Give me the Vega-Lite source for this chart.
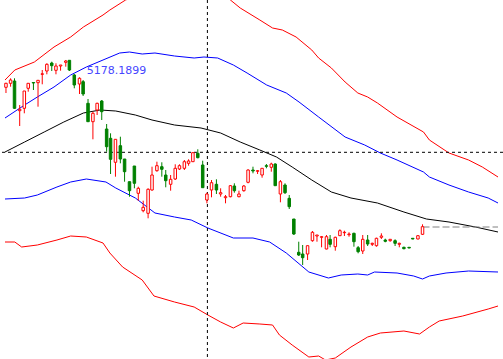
{
"$schema":"https://vega.github.io/schema/vega-lite/v6.json",
"width":503,"height":359,"padding":0,"autosize":{"type":"none"},
"background":"white",
"config":{"view":{"stroke":null}},
"datasets":{
"candles":[
{"t":1,"o":4905,"h":4950,"l":4848,"c":4945,"dir":"up"},
{"t":5.7,"o":4945,"h":4995,"l":4911,"c":4978,"dir":"up"},
{"t":9.7,"o":4968,"h":4995,"l":4690,"c":4695,"dir":"down"},
{"t":15,"o":4671,"h":4728,"l":4518,"c":4685,"dir":"up"},
{"t":19.7,"o":4695,"h":4868,"l":4645,"c":4868,"dir":"up"},
{"t":23.7,"o":4895,"h":4945,"l":4861,"c":4945,"dir":"up"},
{"t":29,"o":4953,"h":4953,"l":4878,"c":4948,"dir":"down"},
{"t":33.7,"o":4951,"h":4978,"l":4711,"c":4975,"dir":"up"},
{"t":38,"o":5035,"h":5078,"l":4935,"c":5040,"dir":"up"},
{"t":42.7,"o":5068,"h":5145,"l":5035,"c":5135,"dir":"up"},
{"t":47.7,"o":5148,"h":5161,"l":5068,"c":5121,"dir":"down"},
{"t":52,"o":5075,"h":5145,"l":5035,"c":5118,"dir":"up"},
{"t":56.7,"o":5118,"h":5128,"l":5071,"c":5128,"dir":"up"},
{"t":62,"o":5155,"h":5178.19,"l":5111,"c":5168,"dir":"up"},
{"t":65.7,"o":5175,"h":5176,"l":5068,"c":5078,"dir":"down"},
{"t":70.7,"o":5028,"h":5038,"l":4895,"c":4928,"dir":"down"},
{"t":76,"o":4938,"h":5005,"l":4838,"c":4995,"dir":"up"},
{"t":79.7,"o":4961,"h":4978,"l":4818,"c":4838,"dir":"down"},
{"t":84.7,"o":4745,"h":4788,"l":4561,"c":4561,"dir":"down"},
{"t":89.7,"o":4561,"h":4661,"l":4385,"c":4645,"dir":"up"},
{"t":94,"o":4678,"h":4751,"l":4628,"c":4745,"dir":"up"},
{"t":98.7,"o":4768,"h":4778,"l":4578,"c":4661,"dir":"down"},
{"t":103.7,"o":4488,"h":4538,"l":4261,"c":4311,"dir":"down"},
{"t":107.7,"o":4395,"h":4445,"l":4038,"c":4185,"dir":"down"},
{"t":112.7,"o":4155,"h":4385,"l":4011,"c":4385,"dir":"up"},
{"t":117.7,"o":4321,"h":4411,"l":4145,"c":4188,"dir":"down"},
{"t":122,"o":4188,"h":4188,"l":3961,"c":4061,"dir":"down"},
{"t":127,"o":3961,"h":3961,"l":3811,"c":3871,"dir":"down"},
{"t":132,"o":4118,"h":4118,"l":3895,"c":3945,"dir":"down"},
{"t":136,"o":3845,"h":3911,"l":3771,"c":3895,"dir":"up"},
{"t":141,"o":3671,"h":3771,"l":3655,"c":3705,"dir":"up"},
{"t":146,"o":3645,"h":3895,"l":3595,"c":3885,"dir":"up"},
{"t":150,"o":3878,"h":4111,"l":3871,"c":4028,"dir":"up"},
{"t":155,"o":4071,"h":4161,"l":4061,"c":4121,"dir":"up"},
{"t":160,"o":4111,"h":4155,"l":4011,"c":4085,"dir":"down"},
{"t":164,"o":4028,"h":4078,"l":3905,"c":3971,"dir":"down"},
{"t":169,"o":3935,"h":4028,"l":3871,"c":3985,"dir":"up"},
{"t":173.7,"o":3988,"h":4135,"l":3978,"c":4095,"dir":"up"},
{"t":178,"o":4088,"h":4135,"l":4078,"c":4121,"dir":"up"},
{"t":183,"o":4095,"h":4178,"l":4078,"c":4161,"dir":"up"},
{"t":187.3,"o":4145,"h":4185,"l":4121,"c":4168,"dir":"up"},
{"t":191.7,"o":4161,"h":4255,"l":4161,"c":4251,"dir":"up"},
{"t":196.7,"o":4245,"h":4285,"l":4195,"c":4201,"dir":"down"},
{"t":201.7,"o":4128,"h":4171,"l":3901,"c":3901,"dir":"down"},
{"t":206,"o":3778,"h":3851,"l":3745,"c":3838,"dir":"up"},
{"t":210.7,"o":3878,"h":3978,"l":3805,"c":3951,"dir":"up"},
{"t":215.7,"o":3935,"h":3985,"l":3838,"c":3878,"dir":"down"},
{"t":220,"o":3838,"h":3895,"l":3811,"c":3851,"dir":"up"},
{"t":225,"o":3801,"h":3828,"l":3745,"c":3811,"dir":"up"},
{"t":230,"o":3811,"h":3928,"l":3805,"c":3921,"dir":"up"},
{"t":234,"o":3918,"h":3945,"l":3851,"c":3871,"dir":"down"},
{"t":238.7,"o":3811,"h":3871,"l":3805,"c":3838,"dir":"up"},
{"t":243.7,"o":3871,"h":3928,"l":3861,"c":3918,"dir":"up"},
{"t":248,"o":3955,"h":4085,"l":3945,"c":4078,"dir":"up"},
{"t":253,"o":4078,"h":4111,"l":4045,"c":4068,"dir":"down"},
{"t":257.7,"o":4065,"h":4078,"l":4038,"c":4071,"dir":"up"},
{"t":262.3,"o":4028,"h":4095,"l":4001,"c":4095,"dir":"up"},
{"t":266.7,"o":4121,"h":4138,"l":4095,"c":4115,"dir":"down"},
{"t":271.7,"o":4105,"h":4151,"l":4061,"c":4138,"dir":"up"},
{"t":275.7,"o":4138,"h":4145,"l":3921,"c":3921,"dir":"down"},
{"t":281,"o":3838,"h":3978,"l":3755,"c":3961,"dir":"up"},
{"t":285.7,"o":3928,"h":3945,"l":3838,"c":3851,"dir":"down"},
{"t":290,"o":3795,"h":3828,"l":3688,"c":3711,"dir":"down"},
{"t":294.7,"o":3588,"h":3588,"l":3428,"c":3438,"dir":"down"},
{"t":299.7,"o":3255,"h":3361,"l":3218,"c":3228,"dir":"down"},
{"t":303.7,"o":3238,"h":3328,"l":3128,"c":3201,"dir":"down"},
{"t":308.7,"o":3238,"h":3321,"l":3178,"c":3321,"dir":"up"},
{"t":313.7,"o":3371,"h":3468,"l":3361,"c":3455,"dir":"up"},
{"t":318.3,"o":3418,"h":3428,"l":3361,"c":3428,"dir":"up"},
{"t":323,"o":3405,"h":3418,"l":3305,"c":3411,"dir":"up"},
{"t":328,"o":3288,"h":3428,"l":3285,"c":3411,"dir":"up"},
{"t":331.7,"o":3385,"h":3428,"l":3305,"c":3335,"dir":"down"},
{"t":337,"o":3311,"h":3411,"l":3271,"c":3405,"dir":"up"},
{"t":341.7,"o":3421,"h":3485,"l":3418,"c":3471,"dir":"up"},
{"t":346.3,"o":3451,"h":3471,"l":3418,"c":3455,"dir":"up"},
{"t":351,"o":3431,"h":3455,"l":3411,"c":3438,"dir":"up"},
{"t":356,"o":3445,"h":3451,"l":3311,"c":3361,"dir":"down"},
{"t":360.3,"o":3301,"h":3318,"l":3245,"c":3261,"dir":"down"},
{"t":365,"o":3268,"h":3428,"l":3238,"c":3385,"dir":"up"},
{"t":370,"o":3378,"h":3428,"l":3318,"c":3338,"dir":"down"},
{"t":374.7,"o":3335,"h":3351,"l":3318,"c":3345,"dir":"up"},
{"t":379,"o":3321,"h":3401,"l":3311,"c":3395,"dir":"up"},
{"t":384,"o":3405,"h":3445,"l":3388,"c":3418,"dir":"up"},
{"t":388,"o":3378,"h":3391,"l":3355,"c":3365,"dir":"down"},
{"t":393,"o":3371,"h":3385,"l":3361,"c":3385,"dir":"up"},
{"t":398,"o":3371,"h":3385,"l":3318,"c":3345,"dir":"down"},
{"t":402.3,"o":3335,"h":3351,"l":3305,"c":3345,"dir":"up"},
{"t":407,"o":3305,"h":3311,"l":3285,"c":3291,"dir":"down"},
{"t":412.3,"o":3305,"h":3308,"l":3296,"c":3298,"dir":"down"},
{"t":416,"o":3395,"h":3398,"l":3386,"c":3388,"dir":"down"},
{"t":421.3,"o":3388,"h":3428,"l":3385,"c":3421,"dir":"up"},
{"t":426,"o":3435,"h":3535,"l":3428,"c":3511,"dir":"up"}
],
"bands":[
{"band":"upper2","t":0,"p":4978},{"band":"upper2","t":10,"p":5078},{"band":"upper2","t":30,"p":5158},{"band":"upper2","t":50,"p":5308},{"band":"upper2","t":67,"p":5408},{"band":"upper2","t":80,"p":5508},{"band":"upper2","t":100,"p":5628},{"band":"upper2","t":107,"p":5678},{"band":"upper2","t":123,"p":5778},{"band":"upper2","t":150,"p":5878},{"band":"upper2","t":190,"p":5918},{"band":"upper2","t":215,"p":5858},{"band":"upper2","t":230,"p":5778},{"band":"upper2","t":240,"p":5698},{"band":"upper2","t":260,"p":5578},{"band":"upper2","t":273,"p":5498},{"band":"upper2","t":283,"p":5478},{"band":"upper2","t":297,"p":5408},{"band":"upper2","t":313,"p":5278},{"band":"upper2","t":320,"p":5198},{"band":"upper2","t":333,"p":5098},{"band":"upper2","t":347,"p":4958},{"band":"upper2","t":360,"p":4848},{"band":"upper2","t":370,"p":4808},{"band":"upper2","t":380,"p":4748},{"band":"upper2","t":400,"p":4608},{"band":"upper2","t":427,"p":4458},{"band":"upper2","t":433,"p":4378},{"band":"upper2","t":453,"p":4248},{"band":"upper2","t":473,"p":4178},{"band":"upper2","t":487,"p":4108},{"band":"upper2","t":503,"p":4008},
{"band":"upper1","t":0,"p":4598},{"band":"upper1","t":20,"p":4728},{"band":"upper1","t":33,"p":4808},{"band":"upper1","t":50,"p":4908},{"band":"upper1","t":67,"p":5028},{"band":"upper1","t":83,"p":5108},{"band":"upper1","t":100,"p":5178},{"band":"upper1","t":117,"p":5248},{"band":"upper1","t":127,"p":5258},{"band":"upper1","t":140,"p":5238},{"band":"upper1","t":153,"p":5248},{"band":"upper1","t":173,"p":5218},{"band":"upper1","t":193,"p":5198},{"band":"upper1","t":203,"p":5208},{"band":"upper1","t":217,"p":5198},{"band":"upper1","t":233,"p":5128},{"band":"upper1","t":247,"p":5048},{"band":"upper1","t":267,"p":4928},{"band":"upper1","t":287,"p":4848},{"band":"upper1","t":300,"p":4758},{"band":"upper1","t":320,"p":4608},{"band":"upper1","t":347,"p":4408},{"band":"upper1","t":367,"p":4328},{"band":"upper1","t":383,"p":4248},{"band":"upper1","t":400,"p":4178},{"band":"upper1","t":427,"p":4058},{"band":"upper1","t":433,"p":4008},{"band":"upper1","t":453,"p":3928},{"band":"upper1","t":473,"p":3858},{"band":"upper1","t":493,"p":3798},{"band":"upper1","t":503,"p":3748},
{"band":"mid","t":0,"p":4258},{"band":"mid","t":20,"p":4358},{"band":"mid","t":40,"p":4458},{"band":"mid","t":60,"p":4558},{"band":"mid","t":80,"p":4648},{"band":"mid","t":97,"p":4678},{"band":"mid","t":113,"p":4668},{"band":"mid","t":133,"p":4628},{"band":"mid","t":150,"p":4578},{"band":"mid","t":173,"p":4528},{"band":"mid","t":200,"p":4498},{"band":"mid","t":220,"p":4448},{"band":"mid","t":240,"p":4358},{"band":"mid","t":260,"p":4278},{"band":"mid","t":277,"p":4208},{"band":"mid","t":293,"p":4108},{"band":"mid","t":313,"p":3978},{"band":"mid","t":333,"p":3858},{"band":"mid","t":353,"p":3798},{"band":"mid","t":380,"p":3748},{"band":"mid","t":407,"p":3658},{"band":"mid","t":430,"p":3588},{"band":"mid","t":453,"p":3558},{"band":"mid","t":480,"p":3508},{"band":"mid","t":503,"p":3458},
{"band":"lower1","t":0,"p":3788},{"band":"lower1","t":20,"p":3798},{"band":"lower1","t":33,"p":3828},{"band":"lower1","t":53,"p":3908},{"band":"lower1","t":67,"p":3958},{"band":"lower1","t":83,"p":3988},{"band":"lower1","t":103,"p":3958},{"band":"lower1","t":113,"p":3898},{"band":"lower1","t":133,"p":3798},{"band":"lower1","t":153,"p":3648},{"band":"lower1","t":173,"p":3608},{"band":"lower1","t":190,"p":3578},{"band":"lower1","t":207,"p":3498},{"band":"lower1","t":233,"p":3398},{"band":"lower1","t":253,"p":3398},{"band":"lower1","t":270,"p":3358},{"band":"lower1","t":287,"p":3248},{"band":"lower1","t":310,"p":3058},{"band":"lower1","t":330,"p":2998},{"band":"lower1","t":343,"p":3028},{"band":"lower1","t":360,"p":3038},{"band":"lower1","t":370,"p":3028},{"band":"lower1","t":377,"p":3058},{"band":"lower1","t":400,"p":3048},{"band":"lower1","t":417,"p":3018},{"band":"lower1","t":426,"p":2988},{"band":"lower1","t":433,"p":3018},{"band":"lower1","t":450,"p":3048},{"band":"lower1","t":473,"p":3068},{"band":"lower1","t":503,"p":3058},
{"band":"lower2","t":0,"p":3358},{"band":"lower2","t":10,"p":3358},{"band":"lower2","t":17,"p":3308},{"band":"lower2","t":33,"p":3328},{"band":"lower2","t":53,"p":3378},{"band":"lower2","t":67,"p":3418},{"band":"lower2","t":83,"p":3408},{"band":"lower2","t":100,"p":3348},{"band":"lower2","t":107,"p":3248},{"band":"lower2","t":120,"p":3108},{"band":"lower2","t":140,"p":2978},{"band":"lower2","t":152,"p":2818},{"band":"lower2","t":173,"p":2758},{"band":"lower2","t":193,"p":2708},{"band":"lower2","t":207,"p":2628},{"band":"lower2","t":220,"p":2558},{"band":"lower2","t":233,"p":2498},{"band":"lower2","t":243,"p":2548},{"band":"lower2","t":260,"p":2538},{"band":"lower2","t":273,"p":2528},{"band":"lower2","t":280,"p":2428},{"band":"lower2","t":293,"p":2328},{"band":"lower2","t":310,"p":2208},{"band":"lower2","t":320,"p":2218},{"band":"lower2","t":327,"p":2178},{"band":"lower2","t":337,"p":2198},{"band":"lower2","t":353,"p":2308},{"band":"lower2","t":370,"p":2408},{"band":"lower2","t":383,"p":2448},{"band":"lower2","t":407,"p":2468},{"band":"lower2","t":423,"p":2438},{"band":"lower2","t":433,"p":2508},{"band":"lower2","t":443,"p":2568},{"band":"lower2","t":467,"p":2618},{"band":"lower2","t":493,"p":2688},{"band":"lower2","t":503,"p":2718}
]
},
"layer":[
{"data":{"name":"bands"},
 "mark":{"type":"line","strokeWidth":1,"clip":true},
 "encoding":{
  "x":{"field":"t","type":"quantitative","scale":{"domain":[0,503],"nice":false,"zero":false},"axis":null},
  "y":{"field":"p","type":"quantitative","scale":{"domain":[2188,5778],"nice":false,"zero":false},"axis":null},
  "color":{"field":"band","type":"nominal","scale":{"domain":["upper2","upper1","mid","lower1","lower2"],"range":["#ff0000","#0000ff","#000000","#0000ff","#ff0000"]},"legend":null}
 }},
{"data":{"values":[{"t":206.5}]},
 "mark":{"type":"rule","color":"#000000","strokeWidth":1,"strokeDash":[3,3]},
 "encoding":{"x":{"field":"t","type":"quantitative"}}},
{"data":{"values":[{"p":4255}]},
 "mark":{"type":"rule","color":"#000000","strokeWidth":1,"strokeDash":[3,3]},
 "encoding":{"y":{"field":"p","type":"quantitative"}}},
{"data":{"values":[{"t":426,"t2":503,"p":3508}]},
 "mark":{"type":"rule","color":"#808080","strokeWidth":1,"strokeDash":[7,3]},
 "encoding":{"x":{"field":"t","type":"quantitative"},"x2":{"field":"t2"},"y":{"field":"p","type":"quantitative"}}},
{"data":{"name":"candles"},
 "mark":{"type":"rule","strokeWidth":1},
 "encoding":{
  "x":{"field":"t","type":"quantitative"},
  "y":{"field":"l","type":"quantitative"},
  "y2":{"field":"h"},
  "stroke":{"field":"dir","type":"nominal","scale":{"domain":["up","down"],"range":["#ff0000","#008000"]},"legend":null}
 }},
{"data":{"name":"candles"},
 "mark":{"type":"bar","width":2.5,"strokeWidth":1},
 "encoding":{
  "x":{"field":"t","type":"quantitative"},
  "y":{"field":"o","type":"quantitative"},
  "y2":{"field":"c"},
  "fill":{"field":"dir","type":"nominal","scale":{"domain":["up","down"],"range":["#ffffff","#008000"]},"legend":null},
  "stroke":{"field":"dir","type":"nominal","scale":{"domain":["up","down"],"range":["#ff0000","#008000"]},"legend":null}
 }},
{"data":{"values":[{"t":62,"p":5178.19,"label":"5178.1899"}]},
 "mark":{"type":"text","align":"left","baseline":"top","dx":21,"dy":5,"font":"DejaVu Sans","fontSize":11,"color":"#4646ff"},
 "encoding":{"x":{"field":"t","type":"quantitative"},"y":{"field":"p","type":"quantitative"},"text":{"field":"label"}}}
]
}
